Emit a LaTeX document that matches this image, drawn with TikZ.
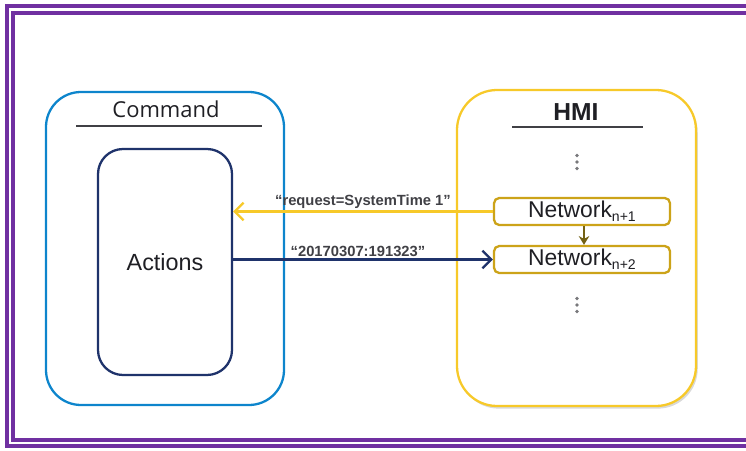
\documentclass[tikz,border=0pt]{standalone}
\usepackage{fontspec}
\setmainfont{Liberation Sans}
\newfontfamily\cmdfont{Open Sans}
\usetikzlibrary{shadows,arrows.meta}
\begin{document}
\begin{tikzpicture}[frame/.style={line width=2pt, hmPurple}, panel/.style={draw, rounded corners=#1, line width=1.3pt}, title/.style={font=\fontsize{14}{16}\selectfont, text=hmInk}, rule/.style={line width=1.3pt, hmInk!85}, netbox/.style={draw=hmGold, line width=1.3pt, rounded corners=3pt, minimum width=3.52cm, minimum height=0.54cm, inner sep=0pt, font=\fontsize{13}{15}\selectfont, text=hmInk}, msg/.style={font=\bfseries\fontsize{8.4}{10}\selectfont, text=hmInk!85, inner sep=1pt}, vec/.style={-{Straight Barb[length=5pt, width=10pt]}, line width=1.3pt}, dot/.style={circle, fill=hmInk!60, inner sep=0pt, minimum size=2pt}, every node/.style={text=hmInk}]
\definecolor{hmInk}{rgb}{0.12,0.12,0.14}
\definecolor{hmPurple}{rgb}{0.44,0.19,0.63}
\definecolor{hmBlue}{rgb}{0.05,0.52,0.80}
\definecolor{hmNavy}{rgb}{0.12,0.20,0.42}
\definecolor{hmYellow}{rgb}{0.97,0.79,0.16}
\definecolor{hmGold}{rgb}{0.80,0.64,0.10}
\definecolor{hmOlive}{rgb}{0.45,0.38,0.08}
\useasboundingbox (0,0) rectangle (14.92,9);
% double frame, cut at the right edge
\draw[frame] (0.14,0.08) rectangle (15.3,8.88);
\draw[frame] (0.26,0.20) rectangle (15.3,8.74);
% Command side
\node[panel=0.7cm, draw=hmBlue, minimum width=4.76cm, minimum height=6.26cm] (cmd) at (3.30,4.03) {};
\node[title, font=\cmdfont\fontsize{12.5}{15}\selectfont] (cmdt) at (3.32,6.82) {Command};
\draw[rule] (1.52,6.48) -- (5.24,6.48);
\node[panel=0.5cm, draw=hmNavy, minimum width=2.68cm, minimum height=4.52cm, font=\fontsize{13.3}{15}\selectfont] (act) at (3.30,3.76) {Actions};
% HMI side
\node[panel=0.8cm, draw=hmYellow, minimum width=4.78cm, minimum height=6.32cm, fill=white, drop shadow={shadow xshift=1pt, shadow yshift=-1.5pt, opacity=0.3, fill=gray}] (hmi) at (11.53,4.04) {};
\node[title, font=\bfseries\fontsize{14}{16}\selectfont] (hmit) at (11.52,6.76) {HMI};
\draw[rule] (10.24,6.46) -- (12.86,6.46);
\node[netbox] (net1) at (11.64,4.77) {Network\raisebox{-2.5pt}{\fontsize{8}{10}\selectfont n+1}};
\node[netbox] (net2) at (11.64,3.81) {Network\raisebox{-2.5pt}{\fontsize{8}{10}\selectfont n+2}};
% vertical ellipses
\foreach \y in {5.89,5.76,5.63} \node[dot] at (11.54,\y) {};
\foreach \y in {3.03,2.90,2.77} \node[dot] at (11.54,\y) {};
\draw[-{Stealth[length=5pt, width=6pt]}, line width=1.2pt, hmOlive] ([xshift=0.04cm]net1.south) -- ([xshift=0.04cm]net2.north);
% messages
\draw[vec, hmYellow] (net1.west) -- (net1.west -| act.east) node[msg, midway, above] {``request=SystemTime 1''};
\draw[vec, hmNavy] (act.east |- net2.west) -- (net2.west) node[msg, midway, above, xshift=-0.1cm] {``20170307:191323''};
\end{tikzpicture}
\end{document}
